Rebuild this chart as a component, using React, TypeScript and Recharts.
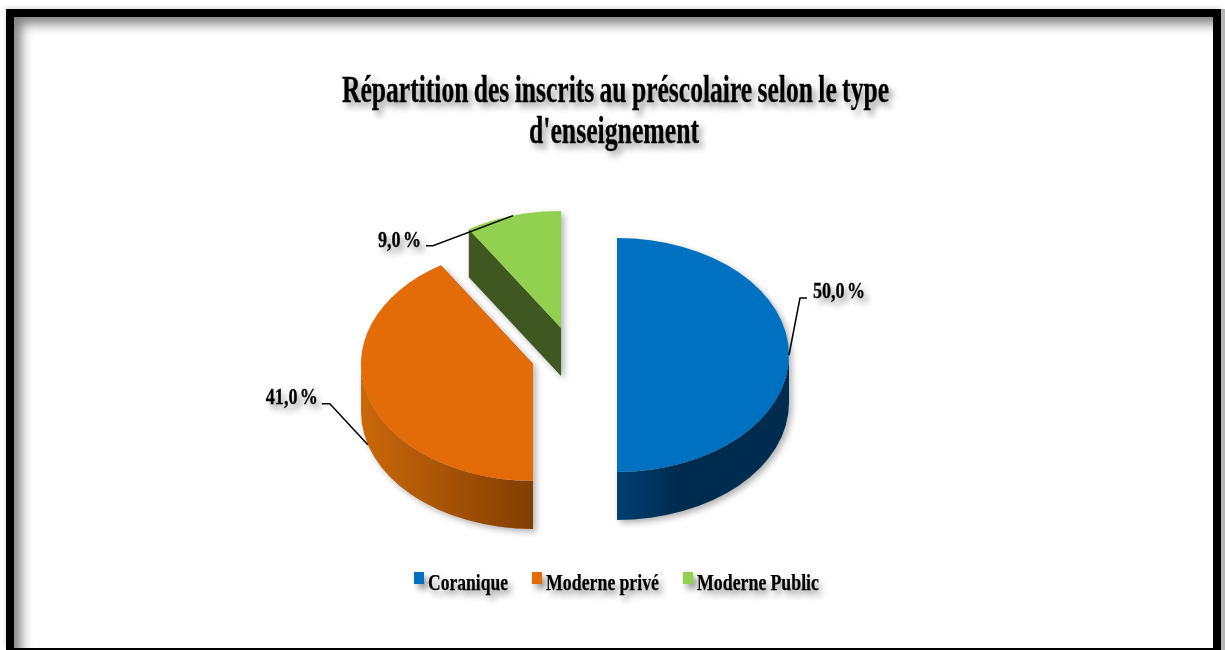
import React from 'react';
import { PieChart, Pie, Legend } from 'recharts';

const categories = ['Coranique', 'Moderne privé', 'Moderne Public'];
const values = [50.0, 41.0, 9.0];
const labels = ['50,0 %', '41,0 %', '9,0 %'];
const colors = ['#0070c0', '#e36c09', '#92d050'];
const cutColors = ['#00355f', '#8a4305', '#3f5720'];
const wallStops = [
  [['0%', '#003f72'], ['35%', '#002c4f'], ['100%', '#002c4f']],
  [['0%', '#cb680a'], ['100%', '#823e03']],
  [['0%', '#3f5720'], ['100%', '#3f5720']],
];
const explode = [[0, 0], [-84, 9], [-56, -27]];
const titleLines = ['Répartition des inscrits au préscolaire selon le type', "d'enseignement"];

const RATIO = 117 / 172;
const DEPTH = 48;
const TEXT_SHADOW = 'drop-shadow(4px 5px 3px rgba(0,0,0,0.4))';
const FONT = '"Liberation Serif", serif';

const labelGeometry = [
  { depth: 0, elbow: [11, -57], end: [18, -57], text: [24, -57], anchor: 'start', len: 52 },
  { depth: 48, elbow: [-38, -41], end: [-46, -41], text: [-50, -41], anchor: 'end', len: 52 },
  { depth: 0, elbow: [-80, 30], end: [-87, 30], text: [-92, 31], anchor: 'end', len: 43 },
];
const legendGeometry = [
  { box: 414, text: 428, len: 80 },
  { box: 532, text: 546, len: 113 },
  { box: 683, text: 697, len: 122 },
];

const data = categories.map((name, i) => ({ name, value: values[i], fill: colors[i], idx: i }));

const pt = (cx: number, cy: number, r: number, deg: number) => {
  const a = (deg * Math.PI) / 180;
  return [cx + r * Math.cos(a), cy - r * RATIO * Math.sin(a)];
};

function Slice(props: any) {
  const { cx, cy, outerRadius: r, startAngle, endAngle } = props;
  const i = categories.indexOf(props.name);
  const [dx, dy] = explode[i];
  const X = cx + dx;
  const Y = cy + dy;
  const ry = r * RATIO;
  const s = pt(X, Y, r, startAngle);
  const e = pt(X, Y, r, endAngle);
  const large = Math.abs(startAngle - endAngle) > 180 ? 1 : 0;
  const top = `M${X},${Y} L${s[0]},${s[1]} A${r},${ry} 0 ${large} 1 ${e[0]},${e[1]} Z`;
  const quad = (p: number[]) =>
    `M${X},${Y} L${p[0]},${p[1]} L${p[0]},${p[1] + DEPTH} L${X},${Y + DEPTH} Z`;
  const a1 = Math.min(startAngle, 0);
  const a2 = Math.max(endAngle, -180);
  let wall = '';
  let range = [X, X + r];
  if (a1 > a2) {
    const w1 = pt(X, Y, r, a1);
    const w2 = pt(X, Y, r, a2);
    wall = `M${w1[0]},${w1[1]} A${r},${ry} 0 0 1 ${w2[0]},${w2[1]} L${w2[0]},${w2[1] + DEPTH} A${r},${ry} 0 0 0 ${w1[0]},${w1[1] + DEPTH} Z`;
    range = [Math.min(w1[0], w2[0]), Math.max(w1[0], w2[0])];
  }
  const gid = `wall-${i}`;
  return (
    <g style={{ filter: 'drop-shadow(3px 3px 3px rgba(0,0,0,0.3))' }}>
      <defs>
        <linearGradient id={gid} gradientUnits="userSpaceOnUse" x1={range[0]} x2={range[1]} y1={0} y2={0}>
          {wallStops[i].map(([o, c]) => (
            <stop key={o} offset={o} stopColor={c} />
          ))}
        </linearGradient>
      </defs>
      <path d={quad(s)} fill={cutColors[i]} />
      <path d={quad(e)} fill={cutColors[i]} />
      {wall && <path d={wall} fill={`url(#${gid})`} />}
      <path d={top} fill={props.fill} />
    </g>
  );
}

function Label(props: any) {
  const { cx, cy, outerRadius: r, midAngle, name } = props;
  const i = categories.indexOf(name);
  const g = labelGeometry[i];
  const [dx, dy] = explode[i];
  const p = pt(cx + dx, cy + dy, r, midAngle);
  const ax = p[0];
  const ay = p[1] + g.depth;
  return (
    <g>
      <polyline
        points={`${ax},${ay} ${ax + g.elbow[0]},${ay + g.elbow[1]} ${ax + g.end[0]},${ay + g.end[1]}`}
        fill="none"
        stroke="#000"
        strokeWidth={1.5}
      />
      <text
        x={ax + g.text[0]}
        y={ay + g.text[1]}
        textAnchor={g.anchor}
        fontFamily={FONT}
        fontWeight={700}
        fontSize={24}
        wordSpacing={-3}
        fill="#000"
        stroke="#000"
        strokeWidth={0.3}
        textLength={g.len}
        lengthAdjust="spacingAndGlyphs"
        style={{ filter: TEXT_SHADOW }}
      >
        {labels[i]}
      </text>
    </g>
  );
}

function LegendContent({ payload }: any) {
  return (
    <svg width={1225} height={50} style={{ display: 'block', overflow: 'visible' }}>
      {(payload || []).map((entry: any, i: number) => {
        const g = legendGeometry[i];
        return (
          <g key={entry.value}>
            <rect x={g.box} y={12} width={10} height={12} fill={entry.color} style={{ filter: TEXT_SHADOW }} />
            <text
              x={g.text}
              y={30}
              fontFamily={FONT}
              fontWeight={700}
              fontSize={23}
              wordSpacing={-0.5}
              fill="#000"
              stroke="#000"
              strokeWidth={0.25}
              textLength={g.len}
              lengthAdjust="spacingAndGlyphs"
              style={{ filter: TEXT_SHADOW }}
            >
              {entry.value}
            </text>
          </g>
        );
      })}
    </svg>
  );
}

export default function App() {
  return (
    <div style={{ position: 'fixed', left: 0, top: 0, width: 1225, height: 650, overflow: 'hidden', background: '#fff' }}>
      <div
        style={{
          position: 'absolute',
          left: 6,
          top: 9,
          width: 1215,
          height: 641,
          boxSizing: 'border-box',
          borderStyle: 'solid',
          borderColor: '#000',
          borderWidth: '8px 8px 2px 8px',
          boxShadow: 'inset 10px 10px 12px -3px rgba(0,0,0,0.5), 4px 0 0 #b4b4b4, -1px -2px 4px rgba(0,0,0,0.12)',
        }}
      />
      <svg width={1225} height={200} style={{ position: 'absolute', left: 0, top: 0 }}>
        <text
          x={342}
          y={102}
          fontFamily={FONT}
          fontWeight={700}
          fontSize={37}
          wordSpacing={-1.5}
          fill="#000"
          stroke="#000"
          strokeWidth={0.3}
          textLength={547}
          lengthAdjust="spacingAndGlyphs"
          style={{ filter: TEXT_SHADOW }}
        >
          {titleLines[0]}
        </text>
        <text
          x={529}
          y={143}
          fontFamily={FONT}
          fontWeight={700}
          fontSize={37}
          fill="#000"
          stroke="#000"
          strokeWidth={0.3}
          textLength={170}
          lengthAdjust="spacingAndGlyphs"
          style={{ filter: TEXT_SHADOW }}
        >
          {titleLines[1]}
        </text>
      </svg>
      <div style={{ position: 'absolute', left: 0, top: 0 }}>
        <PieChart width={1225} height={650} margin={{ top: 0, right: 0, bottom: 0, left: 0 }}>
          <Pie
            data={data}
            dataKey="value"
            nameKey="name"
            cx={617}
            cy={355}
            innerRadius={0}
            outerRadius={172}
            startAngle={90}
            endAngle={-270}
            stroke="none"
            isAnimationActive={false}
            shape={Slice}
            activeShape={Slice}
            inactiveShape={Slice}
            label={Label}
            labelLine={false}
          />
          <Legend
            content={LegendContent}
            itemSorter={null}
            wrapperStyle={{ position: 'absolute', left: 0, top: 560, width: 1225, height: 50 }}
          />
        </PieChart>
      </div>
    </div>
  );
}
